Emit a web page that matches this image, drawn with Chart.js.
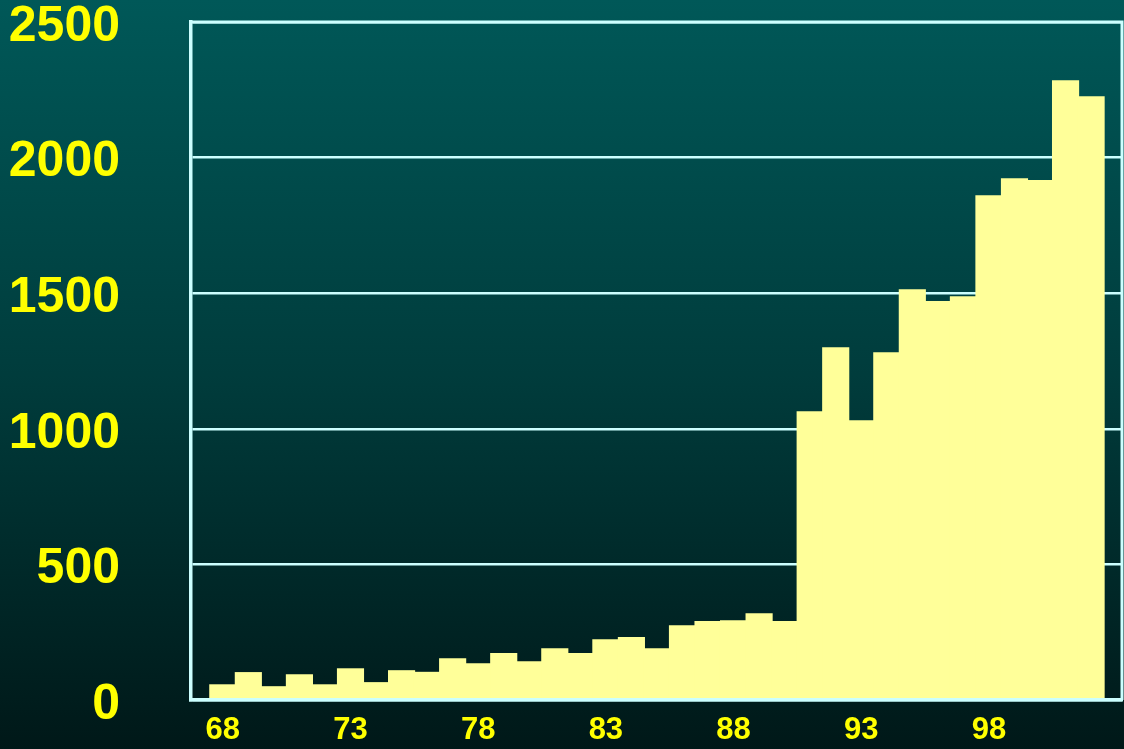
<!DOCTYPE html>
<html>
<head>
<meta charset="utf-8">
<script src="https://cdn.jsdelivr.net/npm/chart.js@4"></script>
<style>
  html, body { margin: 0; padding: 0; background: #003333; }
  canvas { display: block; }
</style>
</head>
<body>
<canvas id="c" width="1124" height="749"></canvas>
<script>
const years = [68, 69, 70, 71, 72, 73, 74, 75, 76, 77, 78, 79, 80, 81, 82, 83, 84, 85,
               86, 87, 88, 89, 90, 91, 92, 93, 94, 95, 96, 97, 98, 99, 100, 101, 102];
const counts = [55, 100, 48, 92, 55, 114, 63, 107, 101, 151, 133, 170, 140, 188, 170, 221, 229, 188,
                273, 288, 291, 317, 288, 1062, 1298, 1029, 1279, 1512, 1468, 1486, 1858, 1921, 1914, 2282, 2223];
const xTickValues = [68, 73, 78, 83, 88, 93, 98];
const yTickValues = [0, 500, 1000, 1500, 2000, 2500];

const bgPlugin = {
  id: 'bg',
  beforeDraw(chart) {
    const ctx = chart.ctx;
    const g = ctx.createLinearGradient(0, 0, 0, chart.height);
    g.addColorStop(0, '#005858');
    g.addColorStop(0.5, '#003c3c');
    g.addColorStop(1, '#001818');
    ctx.save();
    ctx.fillStyle = g;
    ctx.fillRect(0, 0, chart.width, chart.height);
    ctx.restore();
  },
  afterDraw(chart) {
    const a = chart.chartArea;
    const ctx = chart.ctx;
    ctx.save();
    ctx.strokeStyle = '#CCFFFF';
    ctx.lineWidth = 3;
    ctx.beginPath();
    ctx.moveTo(a.left, a.top);
    ctx.lineTo(a.right, a.top);
    ctx.lineTo(a.right, a.bottom);
    ctx.stroke();
    ctx.restore();
  }
};

new Chart(document.getElementById('c'), {
  type: 'bar',
  data: {
    datasets: [{
      data: years.map((y, i) => ({ x: y, y: counts[i] })),
      backgroundColor: '#FFFF99',
      borderWidth: 0,
      inflateAmount: 0.8,
      categoryPercentage: 1.0,
      barPercentage: 1.0
    }]
  },
  options: {
    responsive: false,
    animation: false,
    layout: { autoPadding: false, padding: { top: 22, right: 2, left: 0, bottom: 0 } },
    plugins: { legend: { display: false }, tooltip: { enabled: false } },
    scales: {
      x: {
        type: 'linear',
        offset: false,
        min: 66.755,
        max: 103.21,
        afterBuildTicks(axis) { axis.ticks = xTickValues.map(v => ({ value: v })); },
        afterFit(axis) { axis.height = 49; axis.paddingLeft = 0; axis.paddingRight = 0; },
        grid: { display: false, drawTicks: false },
        border: { display: true, color: '#CCFFFF', width: 3.5, z: 1 },
        ticks: {
          autoSkip: false,
          maxRotation: 0,
          padding: 12,
          color: '#FFFF00',
          font: { family: 'Liberation Sans, Arial, sans-serif', weight: 'bold', size: 31 },
          callback: v => String(v)
        }
      },
      y: {
        min: 0,
        max: 2500,
        afterBuildTicks(axis) { axis.ticks = yTickValues.map(v => ({ value: v })); },
        afterFit(axis) { axis.width = 191; axis.paddingTop = 0; axis.paddingBottom = 0; },
        grid: { color: '#CCFFFF', lineWidth: 2.5, drawTicks: false },
        border: { display: true, color: '#CCFFFF', width: 3.5 },
        ticks: {
          padding: 71,
          labelOffset: 5,
          color: '#FFFF00',
          font: { family: 'Liberation Sans, Arial, sans-serif', weight: 'bold', size: 50 },
          callback: v => String(v)
        }
      }
    }
  },
  plugins: [bgPlugin]
});
</script>
</body>
</html>
